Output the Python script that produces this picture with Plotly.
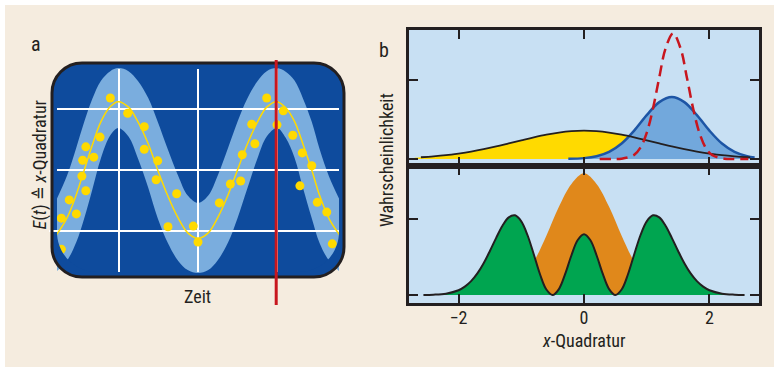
import plotly.graph_objects as go

W, H = 774, 367
FONT = "Liberation Sans Narrow, Arial Narrow, Roboto Condensed, DejaVu Sans Condensed, sans-serif"
TXT = "#231F20"

# ---------------- Panel a data (time in grid units, amplitude in grid units) -------------
t_vals = [-1.79, -1.66, -1.54, -1.44, -1.34, -1.23, -1.11, -1.01, -0.88, -0.76, -0.63, -0.51,
          -0.38, -0.25, -0.13, 0.0, 0.13, 0.25, 0.38, 0.5, 0.62, 0.75, 0.87, 1.0, 1.11, 1.22,
          1.33, 1.44, 1.54, 1.66, 1.79]
mean_e = [-1.06, -0.79, -0.40, 0.00, 0.40, 0.79, 1.04, 1.12, 1.03, 0.79, 0.43, 0.00, -0.43,
          -0.79, -1.03, -1.12, -1.03, -0.78, -0.41, 0.00, 0.41, 0.78, 1.03, 1.12, 1.02, 0.80,
          0.42, 0.00, -0.42, -0.80, -1.06]
band_hi = [-0.48, -0.10, 0.37, 0.79, 1.16, 1.46, 1.62, 1.67, 1.62, 1.46, 1.18, 0.79, 0.33,
           -0.10, -0.42, -0.54, -0.42, -0.09, 0.36, 0.79, 1.16, 1.45, 1.62, 1.67, 1.61, 1.47,
           1.17, 0.79, 0.34, -0.11, -0.48]
band_lo = [-1.66, -1.49, -1.18, -0.79, -0.33, 0.19, 0.57, 0.69, 0.55, 0.19, -0.29, -0.79,
           -1.20, -1.49, -1.64, -1.69, -1.64, -1.48, -1.19, -0.79, -0.32, 0.18, 0.55, 0.69,
           0.53, 0.21, -0.30, -0.79, -1.20, -1.49, -1.66]
dot_t = [-1.73, -1.73, -1.63, -1.54, -1.47, -1.42, -1.46, -1.42, -1.32, -1.24, -1.11, -0.89,
         -0.68, -0.68, -0.51, -0.53, -0.27, -0.38, -0.06, 0.0, 0.27, 0.41, 0.54, 0.56, 0.68,
         0.72, 0.87, 1.0, 1.08, 1.20, 1.32, 1.44, 1.29, 1.51, 1.63, 1.70]
dot_e = [-0.79, -1.30, -0.49, -0.72, -0.10, -0.34, 0.16, 0.38, 0.21, 0.54, 1.18, 0.93, 0.71,
         0.34, 0.15, -0.16, -0.39, -0.93, -0.92, -1.18, -0.54, -0.23, -0.18, 0.25, 0.75, 0.43,
         1.18, 0.74, 0.97, 0.57, 0.28, 0.07, -0.26, -0.53, -0.69, -1.21]
grid_t = [-1.0, 0.0, 1.0]
grid_e = [1.0, 0.0, -1.0]
marker_t = 0.99

# ---------------- Panel b data --------------------------------------------------------------
x_wide = [-2.7, -2.6, -2.4, -2.2, -2.0, -1.8, -1.6, -1.4, -1.2, -1.0, -0.8, -0.6, -0.4, -0.2,
          0.0, 0.2, 0.4, 0.6, 0.8, 1.0, 1.2, 1.4, 1.6, 1.8, 2.0, 2.2, 2.4, 2.6, 2.65]
p_wide = [0.016, 0.022, 0.033, 0.048, 0.069, 0.094, 0.124, 0.159, 0.198, 0.237, 0.275, 0.309,
          0.335, 0.352, 0.358, 0.352, 0.335, 0.309, 0.275, 0.237, 0.198, 0.159, 0.124, 0.094,
          0.069, 0.048, 0.033, 0.022, 0.020]
x_coh = [-0.25, 0.0, 0.2, 0.4, 0.6, 0.8, 1.0, 1.2, 1.4, 1.6, 1.8, 2.0, 2.2, 2.4, 2.6, 2.72]
p_coh = [0.002, 0.011, 0.035, 0.090, 0.196, 0.359, 0.555, 0.720, 0.785, 0.720, 0.555, 0.359,
         0.196, 0.090, 0.035, 0.018]
x_sq = [0.25, 0.45, 0.6, 0.8, 0.9, 1.0, 1.1, 1.2, 1.3, 1.42, 1.54, 1.64, 1.74, 1.84, 1.94,
        2.04, 2.24, 2.4, 2.62]
p_sq = [0.0, 0.0, 0.004, 0.052, 0.143, 0.331, 0.639, 1.033, 1.399, 1.59, 1.399, 1.033, 0.639,
        0.331, 0.143, 0.052, 0.004, 0.0, 0.0]

x_cat = [-1.2, -1.0, -0.8, -0.6, -0.4, -0.2, 0.0, 0.2, 0.4, 0.6, 0.8, 1.0, 1.2]
p_cat = [0.05, 0.21, 0.44, 0.78, 1.16, 1.46, 1.60, 1.46, 1.16, 0.78, 0.44, 0.21, 0.05]
x_fock = [-2.56, -2.4, -2.2, -2.0, -1.9, -1.8, -1.7, -1.6, -1.5, -1.4, -1.3, -1.2, -1.1, -1.0,
          -0.9, -0.8, -0.7, -0.6, -0.5, -0.4, -0.3, -0.2, -0.1, 0.0, 0.1, 0.2, 0.3, 0.4, 0.5,
          0.6, 0.7, 0.8, 0.9, 1.0, 1.1, 1.2, 1.3, 1.4, 1.5, 1.6, 1.7, 1.8, 1.9, 2.0, 2.2, 2.4,
          2.56]
p_fock = [0.001, 0.004, 0.018, 0.063, 0.110, 0.182, 0.284, 0.418, 0.579, 0.752, 0.911, 1.021,
          1.048, 0.969, 0.786, 0.533, 0.270, 0.072, 0.0, 0.078, 0.277, 0.523, 0.723, 0.800,
          0.723, 0.523, 0.277, 0.078, 0.0, 0.072, 0.270, 0.533, 0.786, 0.969, 1.048, 1.021,
          0.911, 0.752, 0.579, 0.418, 0.284, 0.182, 0.110, 0.063, 0.018, 0.004, 0.001]

x_ticks = [-2, 0, 2]
x_ticktext = ["\u22122", "0", "2"]

# ---------------- colours ----------------------------------------------------------------
BEIGE = "#F5ECDF"
DARK = "#0E4B9D"
BAND = "#7AADDE"
YEL = "#FFDA00"
RED = "#C8161E"
PANEL = "#C8E0F3"
KAPPA = 0.5523


def px(x):
    return x / W


def py(y):
    return 1 - y / H


def P(x, y):
    return f"{px(x):.5f},{py(y):.5f}"


def rounded(x0, y0, x1, y1, r):
    k = 1 - KAPPA
    return (f"M {P(x0 + r, y0)} L {P(x1 - r, y0)} "
            f"C {P(x1 - r * k, y0)} {P(x1, y0 + r * k)} {P(x1, y0 + r)} "
            f"L {P(x1, y1 - r)} C {P(x1, y1 - r * k)} {P(x1 - r * k, y1)} {P(x1 - r, y1)} "
            f"L {P(x0 + r, y1)} C {P(x0 + r * k, y1)} {P(x0, y1 - r * k)} {P(x0, y1 - r)} "
            f"L {P(x0, y0 + r)} C {P(x0, y0 + r * k)} {P(x0 + r * k, y0)} {P(x0 + r, y0)} Z")


def corner_mask(side):
    # region between an inner clip arc (r=40) and the outer border arc (r=29)
    k = 1 - KAPPA
    s = 1 if side == "left" else -1
    xe = 57 if side == "left" else 339     # inner clip edge
    xo = 53 if side == "left" else 343     # outer border edge
    return (f"M {P(xe, 232)} C {P(xe, 272 - 40 * k)} {P(xe + s * 40 * k, 272)} {P(xe + s * 40, 272)} "
            f"L {P(xe + s * 40, 276)} L {P(xo + s * 29, 276)} "
            f"C {P(xo + s * 29 * k, 276)} {P(xo, 276 - 29 * k)} {P(xo, 247)} "
            f"L {P(xo, 232)} Z")


fig = go.Figure()

# ---- panel b top
fig.add_trace(go.Scatter(x=x_wide, y=p_wide, xaxis="x2", yaxis="y2", mode="lines",
                         line=dict(width=0, shape="spline", color=YEL), fill="tozeroy",
                         fillcolor=YEL, hoverinfo="skip"))
fig.add_trace(go.Scatter(x=x_coh, y=p_coh, xaxis="x2", yaxis="y2", mode="lines",
                         line=dict(width=2.5, shape="spline", color="#1D55A5"), fill="tozeroy",
                         fillcolor="#72A8DC", hoverinfo="skip"))
fig.add_trace(go.Scatter(x=x_wide[1:], y=p_wide[1:], xaxis="x2", yaxis="y2", mode="lines",
                         line=dict(width=1.8, shape="spline", color=TXT), hoverinfo="skip"))
fig.add_trace(go.Scatter(x=x_sq, y=p_sq, xaxis="x2", yaxis="y2", mode="lines",
                         line=dict(width=2.5, shape="spline", color=RED, dash="11px,6px"),
                         hoverinfo="skip"))
# ---- panel b bottom
fig.add_trace(go.Scatter(x=x_cat, y=p_cat, xaxis="x", yaxis="y", mode="lines",
                         line=dict(width=0, shape="spline", color="#E0881B"), fill="tozeroy",
                         fillcolor="#E0881B", hoverinfo="skip"))
fig.add_trace(go.Scatter(x=x_fock, y=p_fock, xaxis="x", yaxis="y", mode="lines",
                         line=dict(width=2, shape="spline", color=TXT), fill="tozeroy",
                         fillcolor="#00A550", hoverinfo="skip"))

# ---- panel a
fig.add_trace(go.Scatter(x=t_vals, y=band_hi, xaxis="x3", yaxis="y3", mode="lines",
                         line=dict(width=0, shape="spline", color=BAND), hoverinfo="skip"))
fig.add_trace(go.Scatter(x=t_vals, y=band_lo, xaxis="x3", yaxis="y3", mode="lines",
                         line=dict(width=0, shape="spline", color=BAND), fill="tonexty",
                         fillcolor=BAND, hoverinfo="skip"))
gx, gy = [], []
for g in grid_t:
    gx += [g, g, None]
    gy += [1.656, -1.672, None]
for g in grid_e:
    gx += [-1.8, 1.8, None]
    gy += [g, g, None]
fig.add_trace(go.Scatter(x=gx, y=gy, xaxis="x3", yaxis="y3", mode="lines",
                         line=dict(width=2, color="white"), hoverinfo="skip"))
fig.add_trace(go.Scatter(x=t_vals, y=mean_e, xaxis="x3", yaxis="y3", mode="lines",
                         line=dict(width=1.5, shape="spline", color=YEL), hoverinfo="skip"))
fig.add_trace(go.Scatter(x=dot_t, y=dot_e, xaxis="x3", yaxis="y3", mode="markers",
                         marker=dict(size=9, color=YEL), hoverinfo="skip"))

shapes = [
    dict(type="rect", xref="paper", yref="paper", x0=px(5), x1=1, y0=0, y1=py(5),
         fillcolor=BEIGE, line=dict(width=0), layer="below"),
    dict(type="rect", xref="paper", yref="paper", x0=px(409), x1=px(759), y0=py(303),
         y1=py(30), fillcolor=PANEL, line=dict(width=0), layer="below"),
    dict(type="path", path=rounded(52, 63, 344, 277, 30), xref="paper", yref="paper",
         fillcolor=DARK, line=dict(width=0), layer="below"),
    dict(type="path", path=corner_mask("left"), xref="paper", yref="paper", fillcolor=DARK,
         line=dict(width=0), layer="above"),
    dict(type="path", path=corner_mask("right"), xref="paper", yref="paper", fillcolor=DARK,
         line=dict(width=0), layer="above"),
    dict(type="line", xref="paper", yref="paper", x0=px(49), x1=px(57), y0=py(231), y1=py(231),
         line=dict(width=2, color="white"), layer="above"),
    dict(type="path", path=rounded(52, 63, 344, 277, 30), xref="paper", yref="paper",
         fillcolor="rgba(0,0,0,0)", line=dict(width=3, color="#231F20"), layer="above"),
    dict(type="line", xref="x3", yref="paper", x0=marker_t, x1=marker_t, y0=py(305), y1=py(60),
         line=dict(width=3, color=RED), layer="above"),
]

ax_common = dict(showline=True, linecolor=TXT, linewidth=2.5, mirror="allticks",
                 ticks="inside", ticklen=9, tickwidth=1.5, tickcolor=TXT,
                 showgrid=False, zeroline=False)


def ann(text, x, y, size=18, angle=0):
    return dict(text=text, x=px(x), y=py(y), xref="paper", yref="paper", showarrow=False,
                xanchor="center", yanchor="middle", textangle=angle,
                font=dict(size=size, family=FONT, color=TXT))


fig.update_layout(
    width=W, height=H, margin=dict(l=0, r=0, t=0, b=0),
    paper_bgcolor="white", plot_bgcolor="rgba(0,0,0,0)", showlegend=False,
    font=dict(family=FONT, color=TXT, size=18),
    xaxis=dict(domain=[px(409), px(759)], range=[-2.79, 2.79], anchor="y",
               tickvals=x_ticks, ticktext=x_ticktext, ticklabelstandoff=-3,
               tickfont=dict(size=18, family=FONT, color=TXT), **ax_common),
    yaxis=dict(domain=[py(303), py(166)], range=[-0.105, 1.697], anchor="x",
               tickvals=[0, 1], showticklabels=False, **ax_common),
    xaxis2=dict(domain=[px(409), px(759)], range=[-2.79, 2.79], anchor="y2",
                tickvals=x_ticks, showticklabels=False, matches="x", **ax_common),
    yaxis2=dict(domain=[py(166), py(30)], range=[-0.0886, 1.633], anchor="x2",
                tickvals=[0, 1], showticklabels=False, **ax_common),
    xaxis3=dict(domain=[px(57), px(339)], range=[-1.785, 1.785], anchor="y3", visible=False),
    yaxis3=dict(domain=[py(277), py(63)], range=[-1.754, 1.754], anchor="x3", visible=False),
    shapes=shapes,
    annotations=[
        ann("a", 36, 44, 20),
        ann("b", 384, 50, 20),
        ann("Zeit", 197, 296),
        ann("<i>E</i>(<i>t</i>) \u2259 <i>x</i>-Quadratur", 39, 164.5, angle=-90),
        ann("Wahrscheinlichkeit", 386, 160, angle=-90),
        ann("<i>x</i>-Quadratur", 584, 340),
    ],
)

fig.write_html("out.html", config={"displayModeBar": False},
               post_script="document.body.style.margin='0px';")
